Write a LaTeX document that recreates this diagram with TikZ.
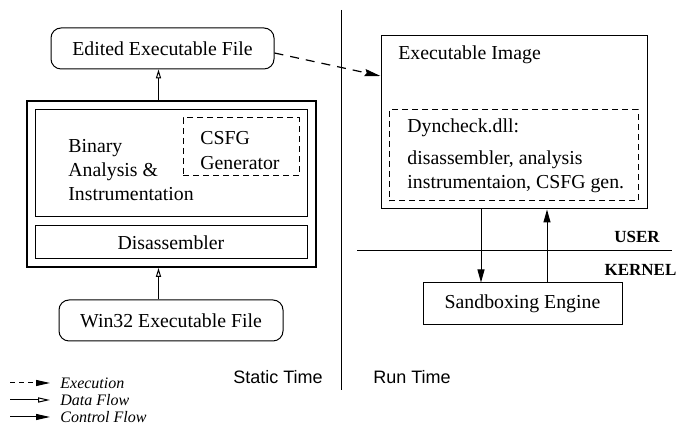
\documentclass[tikz,border=0pt]{standalone}
\usepackage{fontspec}
\setmainfont{Liberation Serif}
\setsansfont{Liberation Sans}
\usetikzlibrary{arrows.meta}

\begin{document}
\begin{tikzpicture}[x=0.5pt, y=-0.5pt,
  every node/.style={font=\fontsize{9.9}{12.2}\selectfont},
  box/.style={draw, line width=0.5pt, inner sep=0pt},
  filebox/.style={box, rounded corners=5pt},
  dashbox/.style={box, dash pattern=on 3pt off 2pt},
  data/.style={line width=0.5pt, -{Triangle[open, length=4.5pt, width=2.6pt]}},
  ctrl/.style={line width=0.5pt, -{Triangle[length=6.5pt, width=3.5pt]}},
  exec/.style={line width=0.6pt, dash pattern=on 4.5pt off 3.5pt, -{Stealth[length=8pt, width=3.6pt, inset=1pt]}},
  legend/.style={font=\fontsize{8}{9.6}\selectfont\itshape, anchor=west, inner sep=0pt},
  ring/.style={font=\fontsize{8.5}{10}\selectfont\bfseries, inner sep=0pt},
  phase/.style={font=\fontsize{9}{11}\selectfont\sffamily, inner sep=0pt}]
\useasboundingbox (0,0) rectangle (682,426);

\begin{scope}[every node/.append style={inner sep=0pt}]
\node[filebox, minimum width=111.5pt, minimum height=20.5pt] (edited) at (162.5,48.5) {Edited Executable File};
\node[box, line width=1pt, minimum width=144.5pt, minimum height=83pt] (tool) at (171.5,184) {};
\node[box, minimum width=136pt, minimum height=53.5pt] (analysis) at (171,163.5) {};
\node[dashbox, minimum width=58pt, minimum height=29pt] (csfg) at (241,147) {};
\node[align=left, anchor=west] (analysistext) at (68,170) {Binary\\Analysis \&\\Instrumentation};
\node[align=left, anchor=west] (csfgtext) at (200,150.5) {CSFG\\Generator};
\node[box, minimum width=136pt, minimum height=16.5pt] (disasm) at (171,242.5) {Disassembler};
\node[filebox, minimum width=112pt, minimum height=20.5pt] (win) at (171,320.5) {Win32 Executable File};
\end{scope}

\begin{scope}[every node/.append style={inner sep=0pt}]
\node[box, minimum width=133pt, minimum height=86.5pt] (image) at (514,122.5) {};
\node[anchor=west] (imagetext) at (398,55) {Executable Image};
\node[dashbox, minimum width=124.5pt, minimum height=45.5pt] (dll) at (513.5,155.5) {};
\node[anchor=west] (dlltext) at (407,128) {Dyncheck.dll:};
\node[align=left, anchor=west] (dllparts) at (407,172) {disassembler, analysis\\instrumentaion, CSFG gen.};
\node[box, minimum width=99.5pt, minimum height=21pt] (sandbox) at (522.5,304) {Sandboxing Engine};
\end{scope}

\node[ring] (user) at (637,237) {USER};
\node[ring] (kernel) at (640.5,270) {KERNEL};
\node[phase] (static) at (278,377) {Static Time};
\node[phase] (run) at (412,377) {Run Time};

\draw[line width=0.5pt] (341,10) -- (341,390);
\draw[line width=0.5pt] (357,251) -- (672,251);

\draw[data] ([xshift=-6.5pt]tool.north) -- ([xshift=-2pt]edited.south);
\draw[data] ([xshift=-6.25pt]win.north) -- ([xshift=-6.5pt]tool.south);
\draw[exec] ([yshift=-2.25pt]edited.east) -- ([yshift=23.25pt]image.west);
\draw[ctrl] ([xshift=-16.5pt]image.south) -- ([xshift=-20.75pt]sandbox.north);
\draw[ctrl] ([xshift=12.25pt]sandbox.north) -- ([xshift=16.5pt]image.south);

\coordinate (execfrom) at (10,383);
\coordinate (execto) at (50,383);
\coordinate (datafrom) at (10,400);
\coordinate (datato) at (50,400);
\coordinate (ctrlfrom) at (10,417);
\coordinate (ctrlto) at (50,417);
\node[legend] (exectext) at (60,383) {Execution};
\node[legend] (datatext) at (60,400) {Data Flow};
\node[legend] (ctrltext) at (60,417) {Control Flow};
\draw[line width=0.5pt, dash pattern=on 2.5pt off 2pt, -{Triangle[length=7pt, width=3pt]}] (execfrom) -- (execto);
\draw[data, -{Triangle[open, length=6pt, width=2.6pt]}] (datafrom) -- (datato);
\draw[ctrl, -{Triangle[length=7pt, width=3pt]}] (ctrlfrom) -- (ctrlto);
\end{tikzpicture}
\end{document}
